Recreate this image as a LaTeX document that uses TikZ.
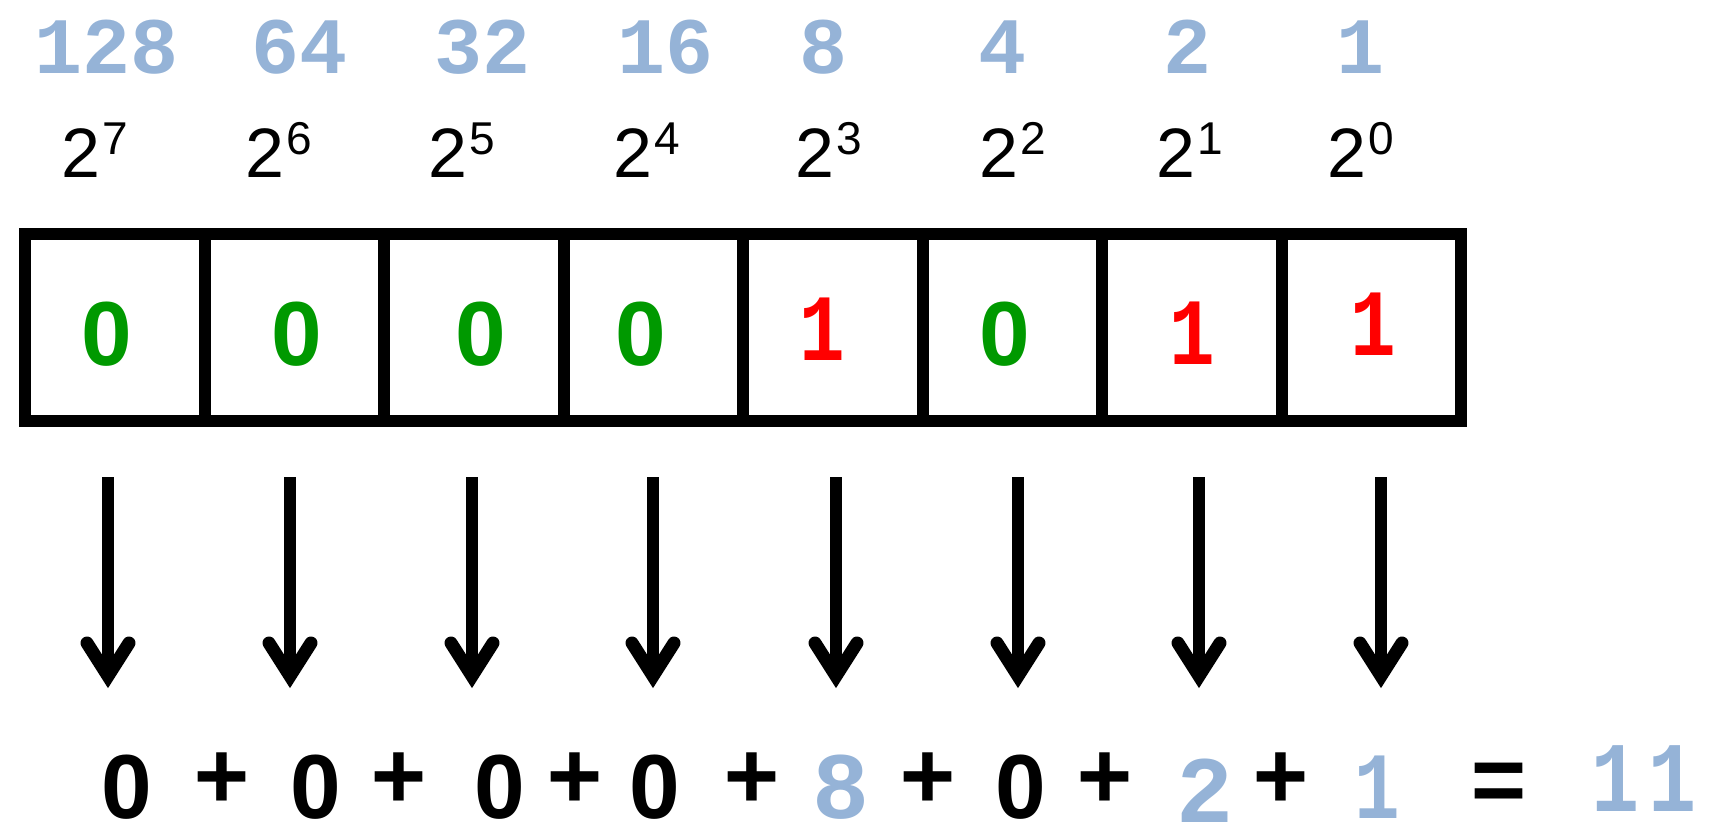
\documentclass[tikz,border=0pt]{standalone}
\usepackage{fontspec}
\usepackage{graphicx}
\newfontfamily\monob{Liberation Mono}
\newfontfamily\helv{Liberation Sans}
\definecolor{bitblue}{RGB}{149,179,215}
\definecolor{bitgreen}{RGB}{0,153,0}
\definecolor{bitred}{RGB}{255,0,0}
\newcommand\powtwo[1]{2\kern1pt\raisebox{11.5pt}{\fontsize{23pt}{23pt}\selectfont #1}}
\newcommand\zerodig{{\helv\bfseries\fontsize{45.5pt}{45.5pt}\selectfont 0}}
\newcommand\onedig{\scalebox{0.8}[1]{1}}
\tikzset{
  wt/.style={font=\monob\bfseries\fontsize{40pt}{40pt}\selectfont, text=bitblue, anchor=base, inner sep=0pt, text depth=0pt},
  pw/.style={font=\helv\fontsize{35pt}{35pt}\selectfont, anchor=base west, inner sep=0pt, text depth=0pt},
  bit/.style={font=\monob\bfseries\fontsize{47.5pt}{47.5pt}\selectfont, anchor=base, inner sep=0pt, text depth=0pt},
  eqt/.style={font=\monob\bfseries\fontsize{47.5pt}{47.5pt}\selectfont, anchor=base, inner sep=0pt, text depth=0pt},
  cell/.style={draw, line width=6pt, minimum width=89.75pt, minimum height=93.5pt, inner sep=0pt},
  shaft/.style={line width=6pt},
  barb/.style={line width=6.5pt, line cap=round, line join=miter}
}
\begin{document}
\begin{tikzpicture}[x=0.5pt,y=-0.5pt]
\useasboundingbox (0,0) rectangle (1713,824);
% weights
\foreach \i/\x/\t in {1/107/128,2/300/64,3/483/32,4/665/16,5/823/8,6/1002/4,7/1187/2,8/1360/1}
  \node[wt] (w\i) at (\x,74) {\t};
% powers
\foreach \i/\x/\t in {1/61/7,2/245/6,3/428/5,4/613/4,5/795/3,6/979/2,7/1156/1,8/1327/0}
  \node[pw] (p\i) at (\x,177) {\powtwo{\t}};
% cells
\foreach \i in {1,...,8}
  \node[cell] (c\i) at ({25+179.5*(\i-0.5)},327.5) {};
% bits
\node[bit,text=bitgreen] (b1) at (107,365) {\zerodig};
\node[bit,text=bitgreen] (b2) at (297,365) {\zerodig};
\node[bit,text=bitgreen] (b3) at (481,365) {\zerodig};
\node[bit,text=bitgreen] (b4) at (641,365) {\zerodig};
\node[bit,text=bitred]   (b5) at (822,360) {\onedig};
\node[bit,text=bitgreen] (b6) at (1005,365) {\zerodig};
\node[bit,text=bitred]   (b7) at (1192,364) {\onedig};
\node[bit,text=bitred]   (b8) at (1373,355) {\onedig};
% arrows
\foreach \i/\x in {1/108,2/290,3/472,4/653,5/836,6/1018,7/1199,8/1381}{
  \coordinate (s\i) at (\x,477);
  \coordinate (v\i) at (\x,676);
  \draw[shaft] (s\i) -- (v\i);
  \draw[barb] (v\i) ++(-21,-33) -- (v\i) -- ++(21,-33);
}
% equation
\node[eqt] (e1) at (127,818) {\zerodig};
\node[eqt] (q1) at (222,808) {+};
\node[eqt] (e2) at (316,818) {\zerodig};
\node[eqt] (q2) at (399,808) {+};
\node[eqt] (e3) at (500,818) {\zerodig};
\node[eqt] (q3) at (575,808) {+};
\node[eqt] (e4) at (655,818) {\zerodig};
\node[eqt] (q4) at (752,808) {+};
\node[eqt,text=bitblue] (e5) at (841,818) {8};
\node[eqt] (q5) at (928,808) {+};
\node[eqt] (e6) at (1021,818) {\zerodig};
\node[eqt] (q6) at (1105,808) {+};
\node[eqt,text=bitblue] (e7) at (1205,822) {2};
\node[eqt] (q7) at (1281,808) {+};
\node[eqt,text=bitblue] (e8) at (1377,818) {\onedig};
\node[eqt] (eq) at (1499,812) {=};
\node[eqt,text=bitblue,font=\monob\bfseries\fontsize{50pt}{50pt}\selectfont] (res) at (1644,811) {\onedig\kern4.5pt\onedig};
\end{tikzpicture}
\end{document}
